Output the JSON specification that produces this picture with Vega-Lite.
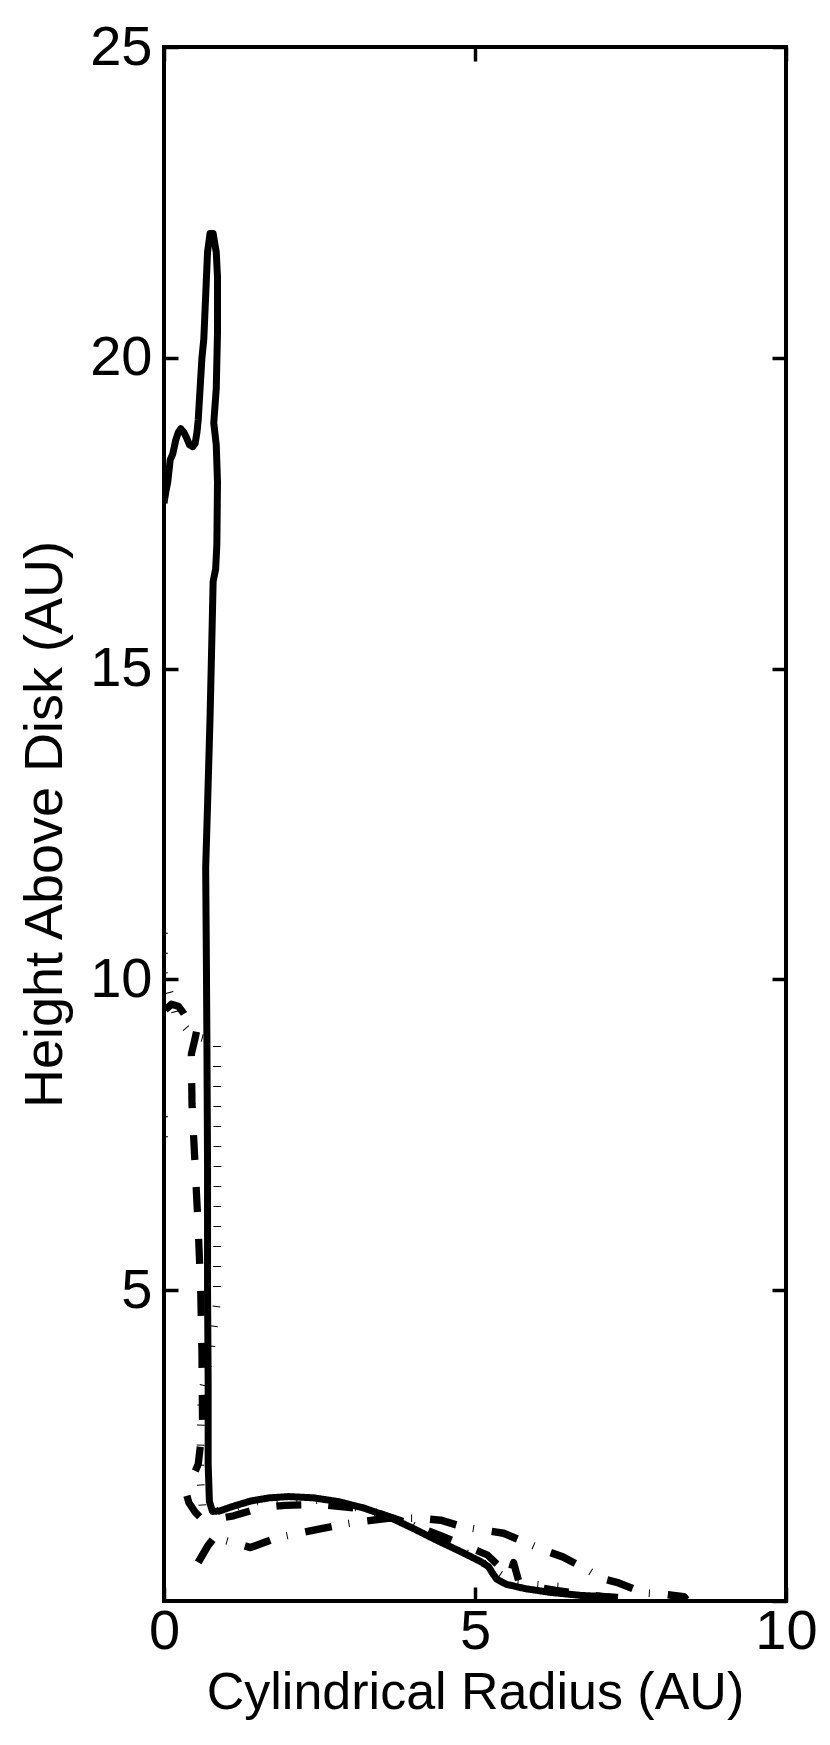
{
  "$schema": "https://vega.github.io/schema/vega-lite/v6.json",
  "width": 622,
  "height": 1554,
  "autosize": {"type": "none"},
  "padding": {"left": 164, "top": 47, "right": 44, "bottom": 144},
  "background": "white",
  "config": {
    "view": {"stroke": "black", "strokeWidth": 4},
    "font": "Liberation Sans",
    "axis": {
      "domain": false, "grid": false, "labelFlush": false, "labelOverlap": false,
      "tickColor": "black", "tickWidth": 3.5, "tickSize": -14,
      "labelColor": "black", "labelFontSize": 56, "labelFont": "Liberation Sans",
      "titleColor": "black", "titleFontSize": 52, "titleFont": "Liberation Sans", "titleFontWeight": "normal"
    }
  },
  "data": {"values": [
    {"s":"A","i":0,"x":0.00,"y":17.66},{"s":"A","i":1,"x":0.03,"y":17.85},{"s":"A","i":2,"x":0.06,"y":18.0},{"s":"A","i":3,"x":0.10,"y":18.36},
    {"s":"A","i":4,"x":0.14,"y":18.45},{"s":"A","i":5,"x":0.19,"y":18.68},{"s":"A","i":6,"x":0.23,"y":18.8},{"s":"A","i":7,"x":0.27,"y":18.86},
    {"s":"A","i":8,"x":0.32,"y":18.8},{"s":"A","i":9,"x":0.36,"y":18.72},{"s":"A","i":10,"x":0.41,"y":18.6},{"s":"A","i":11,"x":0.46,"y":18.57},
    {"s":"A","i":12,"x":0.50,"y":18.62},{"s":"A","i":13,"x":0.53,"y":18.8},{"s":"A","i":14,"x":0.55,"y":19.0},{"s":"A","i":15,"x":0.58,"y":19.5},
    {"s":"A","i":16,"x":0.61,"y":20.0},{"s":"A","i":17,"x":0.64,"y":20.3},{"s":"A","i":18,"x":0.67,"y":21.0},{"s":"A","i":19,"x":0.70,"y":21.7},
    {"s":"A","i":20,"x":0.74,"y":22.0},{"s":"A","i":21,"x":0.79,"y":22.0},{"s":"A","i":22,"x":0.84,"y":21.7},{"s":"A","i":23,"x":0.86,"y":21.3},
    {"s":"A","i":24,"x":0.86,"y":20.4},{"s":"A","i":25,"x":0.84,"y":19.5},{"s":"A","i":26,"x":0.80,"y":18.95},{"s":"A","i":27,"x":0.84,"y":18.6},
    {"s":"A","i":28,"x":0.86,"y":18.0},{"s":"A","i":29,"x":0.85,"y":17.0},{"s":"A","i":30,"x":0.83,"y":16.6},{"s":"A","i":31,"x":0.79,"y":16.4},
    {"s":"A","i":32,"x":0.77,"y":15.5},{"s":"A","i":33,"x":0.74,"y":14.2},{"s":"A","i":34,"x":0.70,"y":12.8},{"s":"A","i":35,"x":0.67,"y":11.8},
    {"s":"A","i":36,"x":0.68,"y":10.5},{"s":"A","i":37,"x":0.69,"y":9.0},{"s":"A","i":38,"x":0.70,"y":7.0},{"s":"A","i":39,"x":0.70,"y":5.0},
    {"s":"A","i":40,"x":0.71,"y":3.5},{"s":"A","i":41,"x":0.71,"y":2.2},{"s":"A","i":42,"x":0.73,"y":1.6},{"s":"A","i":43,"x":0.78,"y":1.44},
    {"s":"A","i":44,"x":0.90,"y":1.45},{"s":"A","i":45,"x":1.10,"y":1.52},{"s":"A","i":46,"x":1.40,"y":1.61},{"s":"A","i":47,"x":1.70,"y":1.66},
    {"s":"A","i":48,"x":2.00,"y":1.68},{"s":"A","i":49,"x":2.40,"y":1.66},{"s":"A","i":50,"x":2.80,"y":1.6},{"s":"A","i":51,"x":3.20,"y":1.5},
    {"s":"A","i":52,"x":3.60,"y":1.36},{"s":"A","i":53,"x":4.00,"y":1.17},{"s":"A","i":54,"x":4.40,"y":0.97},{"s":"A","i":55,"x":4.80,"y":0.78},
    {"s":"A","i":56,"x":5.10,"y":0.63},{"s":"A","i":57,"x":5.22,"y":0.55},{"s":"A","i":58,"x":5.28,"y":0.45},{"s":"A","i":59,"x":5.35,"y":0.35},
    {"s":"A","i":60,"x":5.50,"y":0.27},{"s":"A","i":61,"x":5.80,"y":0.2},{"s":"A","i":62,"x":6.20,"y":0.14},{"s":"A","i":63,"x":6.70,"y":0.09},
    {"s":"A","i":64,"x":7.30,"y":0.06},

    {"s":"B","i":0,"x":0.02,"y":9.51},{"s":"B","i":1,"x":0.12,"y":9.6},{"s":"B","i":2,"x":0.23,"y":9.57},{"s":"B","i":3,"x":0.32,"y":9.45},
    {"s":"B","i":4,"x":0.38,"y":9.35},{"s":"B","i":5,"x":0.55,"y":9.3},{"s":"B","i":6,"x":0.50,"y":9.05},{"s":"B","i":7,"x":0.44,"y":8.8},
    {"s":"B","i":8,"x":0.45,"y":8.0},{"s":"B","i":9,"x":0.50,"y":7.0},{"s":"B","i":10,"x":0.55,"y":6.0},{"s":"B","i":11,"x":0.59,"y":5.0},
    {"s":"B","i":12,"x":0.61,"y":4.0},{"s":"B","i":13,"x":0.62,"y":2.8},{"s":"B","i":14,"x":0.55,"y":2.2},{"s":"B","i":15,"x":0.42,"y":1.9},
    {"s":"B","i":16,"x":0.35,"y":1.76},{"s":"B","i":17,"x":0.40,"y":1.58},{"s":"B","i":18,"x":0.50,"y":1.43},{"s":"B","i":19,"x":0.58,"y":1.35},
    {"s":"B","i":20,"x":0.72,"y":1.3},{"s":"B","i":21,"x":1.12,"y":1.37},{"s":"B","i":22,"x":1.55,"y":1.5},{"s":"B","i":23,"x":1.95,"y":1.54},
    {"s":"B","i":24,"x":2.50,"y":1.55},{"s":"B","i":25,"x":3.24,"y":1.48},{"s":"B","i":26,"x":3.64,"y":1.35},{"s":"B","i":27,"x":4.07,"y":1.2},
    {"s":"B","i":28,"x":4.45,"y":1.05},{"s":"B","i":29,"x":4.82,"y":0.9},{"s":"B","i":30,"x":5.20,"y":0.74},{"s":"B","i":31,"x":5.45,"y":0.5},
    {"s":"B","i":32,"x":5.55,"y":0.38},{"s":"B","i":33,"x":5.62,"y":0.62},{"s":"B","i":34,"x":5.70,"y":0.33},{"s":"B","i":35,"x":5.90,"y":0.24},
    {"s":"B","i":36,"x":6.30,"y":0.17},{"s":"B","i":37,"x":6.80,"y":0.1},{"s":"B","i":38,"x":7.20,"y":0.06},

    {"s":"C","i":0,"x":0.55,"y":0.62},{"s":"C","i":1,"x":0.70,"y":0.88},{"s":"C","i":2,"x":0.83,"y":1.05},{"s":"C","i":3,"x":1.00,"y":0.97},
    {"s":"C","i":4,"x":1.39,"y":0.86},{"s":"C","i":5,"x":1.82,"y":1.02},{"s":"C","i":6,"x":2.41,"y":1.14},{"s":"C","i":7,"x":2.81,"y":1.22},
    {"s":"C","i":8,"x":3.11,"y":1.27},{"s":"C","i":9,"x":3.60,"y":1.33},{"s":"C","i":10,"x":4.12,"y":1.33},{"s":"C","i":11,"x":4.45,"y":1.3},
    {"s":"C","i":12,"x":4.82,"y":1.19},{"s":"C","i":13,"x":5.14,"y":1.14},{"s":"C","i":14,"x":5.46,"y":1.09},{"s":"C","i":15,"x":5.84,"y":0.93},
    {"s":"C","i":16,"x":6.10,"y":0.82},{"s":"C","i":17,"x":6.41,"y":0.71},{"s":"C","i":18,"x":6.81,"y":0.5},{"s":"C","i":19,"x":7.02,"y":0.37},
    {"s":"C","i":20,"x":7.31,"y":0.29},{"s":"C","i":21,"x":7.71,"y":0.13},{"s":"C","i":22,"x":8.03,"y":0.11},{"s":"C","i":23,"x":8.36,"y":0.07},
    {"s":"C","i":24,"x":8.40,"y":0.02},

    {"s":"D","i":0,"x":0.00,"y":10.75},{"s":"D","i":1,"x":0.00,"y":10.1},{"s":"D","i":2,"x":0.20,"y":9.4},{"s":"D","i":3,"x":0.45,"y":9.1},
    {"s":"D","i":4,"x":0.85,"y":9.0},{"s":"D","i":5,"x":0.86,"y":7.0},{"s":"D","i":6,"x":0.85,"y":4.8},{"s":"D","i":7,"x":0.75,"y":4.0},
    {"s":"D","i":8,"x":0.60,"y":3.3},{"s":"D","i":9,"x":0.58,"y":2.0},{"s":"D","i":10,"x":0.62,"y":1.5},{"s":"D","i":11,"x":0.75,"y":1.42},
    {"s":"D","i":12,"x":1.00,"y":1.48},{"s":"D","i":13,"x":1.50,"y":1.6},{"s":"D","i":14,"x":2.00,"y":1.65},{"s":"D","i":15,"x":2.50,"y":1.62},
    {"s":"D","i":16,"x":3.00,"y":1.53},{"s":"D","i":17,"x":3.50,"y":1.4},{"s":"D","i":18,"x":4.00,"y":1.22},{"s":"D","i":19,"x":4.50,"y":0.96},
    {"s":"D","i":20,"x":5.00,"y":0.7},{"s":"D","i":21,"x":5.30,"y":0.5},{"s":"D","i":22,"x":5.60,"y":0.3},{"s":"D","i":23,"x":6.00,"y":0.26},
    {"s":"D","i":24,"x":6.50,"y":0.22},{"s":"D","i":25,"x":6.60,"y":0.2},

    {"s":"E","i":0,"x":0.00,"y":7.8},{"s":"E","i":1,"x":0.00,"y":7.3}
  ]},
  "layer": [
    {
      "mark": {"type": "line", "color": "black", "strokeJoin": "round", "clip": true},
      "encoding": {
        "x": {"field": "x", "type": "quantitative",
              "scale": {"domain": [0, 10], "nice": false, "zero": false},
              "axis": {"orient": "bottom", "values": [0, 5, 10], "title": "Cylindrical Radius (AU)",
                       "labelPadding": 17, "titleY": 107, "titleBaseline": "alphabetic"}},
        "y": {"field": "y", "type": "quantitative",
              "scale": {"domain": [0, 25], "nice": false, "zero": false},
              "axis": {"orient": "left", "values": [5, 10, 15, 20, 25], "title": "Height Above Disk (AU)",
                       "labelPadding": 26, "titleX": -103, "titleBaseline": "alphabetic", "titleAngle": 270,
                       "titleFontSize": 54}},
        "detail": {"field": "s", "type": "nominal"},
        "strokeDash": {"field": "s", "type": "nominal",
                       "scale": {"domain": ["A", "B", "C", "D", "E"], "range": [[1, 0], [25, 27], [27, 17, 1, 18], [1, 19], [1, 19]]},
                       "legend": null},
        "strokeWidth": {"field": "s", "type": "nominal",
                        "scale": {"domain": ["A", "B", "C", "D", "E"], "range": [7, 8, 8, 7, 7]},
                        "legend": null},
        "order": {"field": "i", "type": "quantitative"}
      }
    },
    {
      "mark": {"type": "point", "opacity": 0},
      "encoding": {
        "x": {"field": "x", "type": "quantitative",
              "scale": {"domain": [0, 10], "nice": false, "zero": false},
              "axis": {"orient": "top", "values": [0, 5, 10], "labels": false, "title": null}},
        "y": {"field": "y", "type": "quantitative",
              "scale": {"domain": [0, 25], "nice": false, "zero": false},
              "axis": {"orient": "right", "values": [0, 5, 10, 15, 20, 25], "labels": false, "title": null}}
      }
    }
  ],
  "resolve": {"axis": {"x": "independent", "y": "independent"}}
}
